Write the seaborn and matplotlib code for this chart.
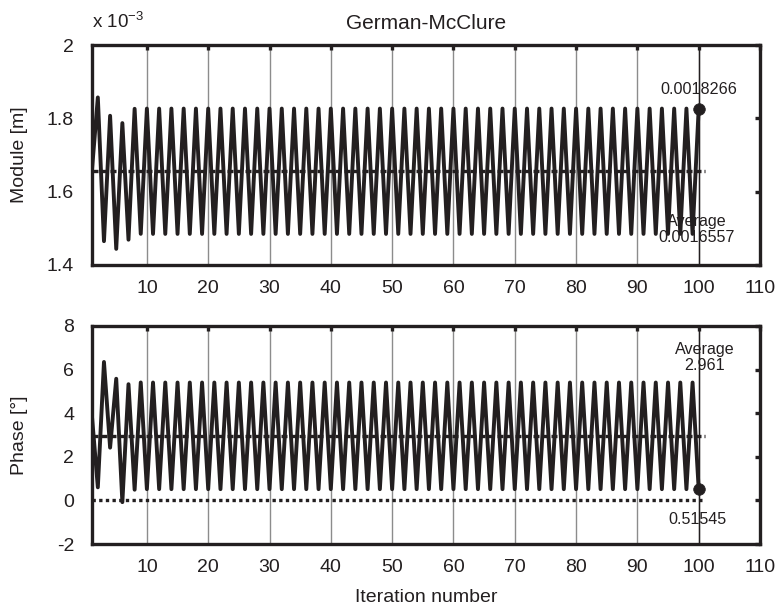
import numpy as np
import pandas as pd
import matplotlib
matplotlib.use("Agg")
import matplotlib.pyplot as plt
from matplotlib.ticker import FuncFormatter, FixedLocator
import seaborn as sns

# ---- data -------------------------------------------------------------
iterations = list(range(1, 101))

# module of the estimate per iteration, in millimetres
module_mm = [
    1.650, 1.857, 1.465, 1.807, 1.444, 1.787, 1.469, 1.826, 1.485, 1.8266,
    1.4848, 1.8266, 1.4848, 1.8266, 1.4848, 1.8266, 1.4848, 1.8266, 1.4848, 1.8266,
    1.4848, 1.8266, 1.4848, 1.8266, 1.4848, 1.8266, 1.4848, 1.8266, 1.4848, 1.8266,
    1.4848, 1.8266, 1.4848, 1.8266, 1.4848, 1.8266, 1.4848, 1.8266, 1.4848, 1.8266,
    1.4848, 1.8266, 1.4848, 1.8266, 1.4848, 1.8266, 1.4848, 1.8266, 1.4848, 1.8266,
    1.4848, 1.8266, 1.4848, 1.8266, 1.4848, 1.8266, 1.4848, 1.8266, 1.4848, 1.8266,
    1.4848, 1.8266, 1.4848, 1.8266, 1.4848, 1.8266, 1.4848, 1.8266, 1.4848, 1.8266,
    1.4848, 1.8266, 1.4848, 1.8266, 1.4848, 1.8266, 1.4848, 1.8266, 1.4848, 1.8266,
    1.4848, 1.8266, 1.4848, 1.8266, 1.4848, 1.8266, 1.4848, 1.8266, 1.4848, 1.8266,
    1.4848, 1.8266, 1.4848, 1.8266, 1.4848, 1.8266, 1.4848, 1.8266, 1.4848, 1.8266,
]

# phase of the estimate per iteration, in degrees
phase_deg = [
    4.00, 0.60, 6.35, 2.42, 5.58, -0.08, 5.33, 0.49, 5.41, 0.51545,
    5.40655, 0.51545, 5.40655, 0.51545, 5.40655, 0.51545, 5.40655, 0.51545, 5.40655, 0.51545,
    5.40655, 0.51545, 5.40655, 0.51545, 5.40655, 0.51545, 5.40655, 0.51545, 5.40655, 0.51545,
    5.40655, 0.51545, 5.40655, 0.51545, 5.40655, 0.51545, 5.40655, 0.51545, 5.40655, 0.51545,
    5.40655, 0.51545, 5.40655, 0.51545, 5.40655, 0.51545, 5.40655, 0.51545, 5.40655, 0.51545,
    5.40655, 0.51545, 5.40655, 0.51545, 5.40655, 0.51545, 5.40655, 0.51545, 5.40655, 0.51545,
    5.40655, 0.51545, 5.40655, 0.51545, 5.40655, 0.51545, 5.40655, 0.51545, 5.40655, 0.51545,
    5.40655, 0.51545, 5.40655, 0.51545, 5.40655, 0.51545, 5.40655, 0.51545, 5.40655, 0.51545,
    5.40655, 0.51545, 5.40655, 0.51545, 5.40655, 0.51545, 5.40655, 0.51545, 5.40655, 0.51545,
    5.40655, 0.51545, 5.40655, 0.51545, 5.40655, 0.51545, 5.40655, 0.51545, 5.40655, 0.51545,
]

module_avg = 0.0016557
phase_avg = 2.961

x_ticks = [10, 20, 30, 40, 50, 60, 70, 80, 90, 100, 110]
module_ticks_mm = [1.4, 1.6, 1.8, 2.0]
phase_ticks = [-2, 0, 2, 4, 6, 8]

module = np.array(module_mm) * 1e-3
df = pd.DataFrame({"iteration": iterations, "module": module, "phase": phase_deg})
module_last = float(df["module"].iloc[-1])
phase_last = float(df["phase"].iloc[-1])
last_iter = iterations[-1]

# ---- style ------------------------------------------------------------
sns.set_theme(style="white")
plt.rcParams.update({
    "font.family": ["Liberation Sans", "DejaVu Sans"],
    "axes.unicode_minus": False,
    "mathtext.fontset": "custom",
    "mathtext.rm": "Liberation Sans",
    "mathtext.it": "Liberation Sans:italic",
    "mathtext.bf": "Liberation Sans:bold",
})

INK = "#231f20"
GRID = "#8c8c8c"
FS = 14
FS_NOTE = 11.6

fig = plt.figure(figsize=(7.79, 6.13), dpi=100)
ax1 = fig.add_axes([0.11772, 0.56770, 0.85789, 0.35889])
ax2 = fig.add_axes([0.11772, 0.11256, 0.85789, 0.35563])


def style_axes(ax):
    for sp in ax.spines.values():
        sp.set_linewidth(2.4)
        sp.set_color(INK)
        sp.set_zorder(6)
    ax.set_xlim(1, 110)
    ax.xaxis.set_major_locator(FixedLocator(x_ticks))
    ax.tick_params(axis="both", direction="in", length=3.6, width=2.4,
                   top=True, right=True, color=INK, labelcolor=INK,
                   labelsize=FS)
    ax.tick_params(axis="x", pad=11)
    ax.tick_params(axis="y", pad=12.7)
    ax.grid(axis="x", color=GRID, lw=1.0)
    ax.grid(axis="y", visible=False)
    ax.set_axisbelow(True)
    ax.axvline(last_iter, color=INK, lw=1.0, zorder=1.5)


# ---- module panel -----------------------------------------------------
sns.lineplot(data=df, x="iteration", y="module", ax=ax1, color=INK,
             lw=2.8, zorder=3)
ax1.hlines(module_avg, iterations[0], last_iter + 1, colors=INK, lw=2.4,
           linestyles=(0, (1.8, 0.9)), zorder=4)
sns.scatterplot(x=[last_iter], y=[module_last], ax=ax1, s=70, color=INK,
                edgecolor=INK, linewidth=0.5, zorder=5)
style_axes(ax1)
ax1.set_ylim(1.4e-3, 2.0e-3)
ax1.yaxis.set_major_locator(FixedLocator(np.array(module_ticks_mm) * 1e-3))
ax1.yaxis.set_major_formatter(FuncFormatter(lambda v, p: f"{v * 1e3:g}"))
ax1.set_xlabel("")
ax1.set_ylabel("Module [m]", fontsize=FS, color=INK)
ax1.yaxis.set_label_coords(-0.095, 0.5)
ax1.set_title("German-McClure", fontsize=15, color=INK, pad=11.7)

ax1.annotate(f"{module_last:.7f}", (last_iter, module_last),
             xytext=(0, 13.4), textcoords="offset points",
             ha="center", va="center", fontsize=FS_NOTE, color=INK)
ax1.annotate(f"Average\n{module_avg:.7f}", (last_iter, module_avg),
             xytext=(-1.5, -41.8), textcoords="offset points",
             ha="center", va="center", fontsize=FS_NOTE, color=INK,
             linespacing=1.1, zorder=7)

fig.text(92 / 779, 1 - 22 / 613, r"x 10$^{\mathregular{-3}}$",
         ha="left", va="center", fontsize=13.5, color=INK)

# ---- phase panel ------------------------------------------------------
sns.lineplot(data=df, x="iteration", y="phase", ax=ax2, color=INK,
             lw=2.8, zorder=3)
ax2.hlines(phase_avg, iterations[0], last_iter + 1, colors=INK, lw=2.4,
           linestyles=(0, (1.8, 0.9)), zorder=4)
ax2.hlines(0, iterations[0], last_iter + 1, colors=INK, lw=2.4,
           linestyles=(0, (1.0, 1.0)), zorder=4)
sns.scatterplot(x=[last_iter], y=[phase_last], ax=ax2, s=70, color=INK,
                edgecolor=INK, linewidth=0.5, zorder=5)
style_axes(ax2)
ax2.set_ylim(-2, 8)
ax2.yaxis.set_major_locator(FixedLocator(phase_ticks))
ax2.yaxis.set_major_formatter(FuncFormatter(lambda v, p: f"{v:g}"))
ax2.set_ylabel("Phase [°]", fontsize=FS, color=INK)
ax2.yaxis.set_label_coords(-0.095, 0.5)
ax2.set_xlabel("Iteration number", fontsize=FS, color=INK)
ax2.xaxis.set_label_coords(0.5, -0.208)

ax2.annotate(f"Average\n{phase_avg:g}", (last_iter, phase_avg),
             xytext=(4.1, 56.4), textcoords="offset points",
             ha="center", va="center", fontsize=FS_NOTE, color=INK,
             linespacing=1.1)
ax2.annotate(f"{phase_last:g}", (last_iter, phase_last),
             xytext=(-0.7, -21.7), textcoords="offset points",
             ha="center", va="center", fontsize=FS_NOTE, color=INK)

fig.savefig("out.png", dpi=100)
